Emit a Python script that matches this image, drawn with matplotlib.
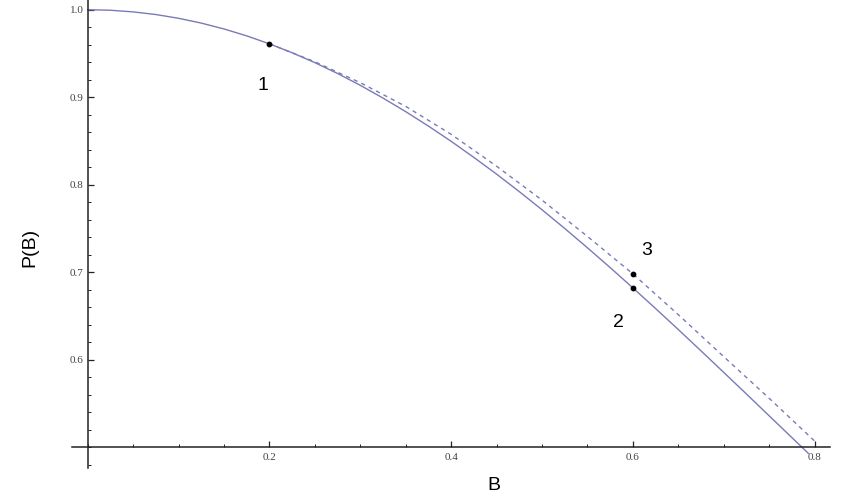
import matplotlib
matplotlib.use("Agg")
import matplotlib.pyplot as plt
from matplotlib.ticker import MultipleLocator, FixedLocator

# Solid curve P(B)
b_solid = [0.0, 0.025, 0.05, 0.075, 0.1, 0.125, 0.15, 0.175, 0.2, 0.225, 0.25,
           0.275, 0.3, 0.325, 0.35, 0.375, 0.4, 0.425, 0.45, 0.475, 0.5, 0.525,
           0.55, 0.575, 0.6, 0.625, 0.65, 0.675, 0.7, 0.725, 0.75, 0.775, 0.793]
p_solid = [1.0, 0.9994, 0.9975, 0.9945, 0.9902, 0.9847, 0.9780, 0.9701, 0.9610,
           0.9508, 0.9395, 0.9271, 0.9136, 0.8990, 0.8835, 0.8670, 0.8496, 0.8312,
           0.8121, 0.7921, 0.7714, 0.7500, 0.7279, 0.7053, 0.6821, 0.6585, 0.6345,
           0.6101, 0.5855, 0.5608, 0.5359, 0.5110, 0.4931]

# Dashed curve starting at point 1
b_dashed = [0.2, 0.25, 0.3, 0.35, 0.4, 0.45, 0.5, 0.55, 0.6, 0.65, 0.7, 0.75, 0.8]
p_dashed = [0.961, 0.9405, 0.9166, 0.8895, 0.8576, 0.8211, 0.7824, 0.7409,
            0.6981, 0.6515, 0.6035, 0.5559, 0.5071]

# Marked points and their labels
pt_labels = ["1", "2", "3"]
pt_b = [0.2, 0.6, 0.6]
pt_p = [0.961, 0.6821, 0.6981]
label_b = [0.193, 0.584, 0.615]
label_p = [0.913, 0.643, 0.725]

x_ticks = [0.2, 0.4, 0.6, 0.8]
y_ticks = [0.6, 0.7, 0.8, 0.9, 1.0]

line_color = "#7a7ab8"

fig = plt.figure(figsize=(8.5, 4.99), dpi=100)
ax = fig.add_axes([72 / 850, 31 / 499, 758 / 850, 468 / 499])

ax.plot(b_solid, p_solid, color=line_color, lw=1.0)
ax.plot(b_dashed, p_dashed, color=line_color, lw=1.0, ls=(0, (3, 3)))
ax.scatter(pt_b, pt_p, s=10, color="black", zorder=3)
for lab, lb, lp in zip(pt_labels, label_b, label_p):
    ax.text(lb, lp, lab, fontsize=14, family="Liberation Sans",
            ha="center", va="center")

ax.set_xlim(-0.0173, 0.817)
ax.set_ylim(0.4762, 1.0111)

# Mathematica style axes crossing at (0, 0.5)
ax.spines["left"].set_position(("data", 0))
ax.spines["bottom"].set_position(("data", 0.5))
ax.spines["top"].set_visible(False)
ax.spines["right"].set_visible(False)
for s in ("left", "bottom"):
    ax.spines[s].set_linewidth(1.1)
    ax.spines[s].set_color("#222222")

ax.xaxis.set_major_locator(FixedLocator(x_ticks))
ax.yaxis.set_major_locator(FixedLocator(y_ticks))
ax.xaxis.set_minor_locator(MultipleLocator(0.05))
ax.yaxis.set_minor_locator(MultipleLocator(0.02))
ax.set_xticklabels([f"{v:.1f}" for v in x_ticks], family="Liberation Serif", fontsize=8, color="#444444")
ax.set_yticklabels([f"{v:.1f}" for v in y_ticks], family="Liberation Serif", fontsize=8, color="#444444")
ax.tick_params(which="major", direction="in", length=4, width=0.9, color="#222222", pad=4)
ax.tick_params(which="minor", direction="in", length=2.5, width=0.7, color="#222222")
ax.tick_params(axis="y", which="major", pad=3)

fig.text(494 / 850, 1 - 486 / 499, "B", fontsize=14, family="Liberation Sans",
         ha="center", va="center")
fig.text(30 / 850, 1 - 247 / 499, "P(B)", fontsize=14, family="Liberation Sans",
         ha="center", va="center", rotation=90)

fig.savefig("out.png", dpi=100)
